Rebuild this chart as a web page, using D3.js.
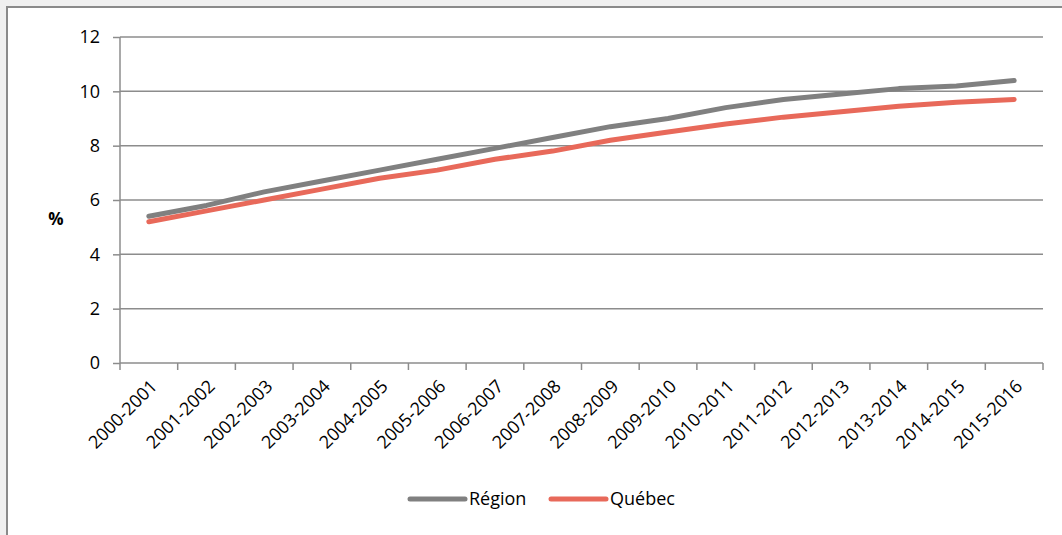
<!DOCTYPE html>
<html>
<head>
<meta charset="utf-8">
<script src="https://cdn.jsdelivr.net/npm/d3@7"></script>
<style>
  html, body { margin: 0; padding: 0; background: #f0f0f0; }
  svg { display: block; }
</style>
</head>
<body>
<svg id="chart" width="1062" height="535"></svg>
<script>
// Taux annuel (%) par année scolaire
const periods = ["2000-2001","2001-2002","2002-2003","2003-2004","2004-2005","2005-2006",
  "2006-2007","2007-2008","2008-2009","2009-2010","2010-2011","2011-2012",
  "2012-2013","2013-2014","2014-2015","2015-2016"];
const region = [5.4, 5.8, 6.3, 6.7, 7.1, 7.5, 7.9, 8.3, 8.7, 9.0, 9.4, 9.7, 9.9, 10.1, 10.2, 10.4];
const quebec = [5.2, 5.6, 6.0, 6.4, 6.8, 7.1, 7.5, 7.8, 8.2, 8.5, 8.8, 9.05, 9.25, 9.45, 9.6, 9.7];
const yTicks = [0, 2, 4, 6, 8, 10, 12];
const seriesNames = ["Région", "Québec"];
const seriesColors = ["#808080", "#e8695a"];

const svg = d3.select("#chart");
const font = "'Open Sans', 'Liberation Sans', sans-serif";
const fontSize = 18;

// white panel with a gray frame on top and left
svg.append("rect").attr("x", 7).attr("y", 7).attr("width", 1062).attr("height", 535)
  .attr("fill", "#ffffff");
svg.append("path").attr("d", "M7,535V7H1062")
  .attr("fill", "none").attr("stroke", "#8a8a8a").attr("stroke-width", 2);

const plot = { left: 120, right: 1043, top: 37, bottom: 363 };

const x = d3.scaleBand().domain(periods).range([plot.left, plot.right]);
const y = d3.scaleLinear().domain([0, 12]).range([plot.bottom, plot.top]);

const gridColor = "#8c8c8c";

// y axis ticks and labels
const yAxis = svg.append("g")
  .attr("transform", `translate(${plot.left},0)`)
  .call(d3.axisLeft(y).tickValues(yTicks).tickSize(7).tickPadding(13).tickFormat(d3.format("d")));
yAxis.select(".domain").remove();
yAxis.selectAll(".tick line").attr("stroke", gridColor).attr("stroke-width", 1.5);
yAxis.selectAll(".tick text").attr("font-family", font).attr("font-size", fontSize).attr("fill", "#000");

// horizontal gridlines
svg.append("g").selectAll("line").data(yTicks).join("line")
  .attr("x1", plot.left).attr("x2", plot.right)
  .attr("y1", d => y(d)).attr("y2", d => y(d))
  .attr("stroke", gridColor).attr("stroke-width", 1.5);

svg.append("line")
  .attr("x1", plot.left).attr("x2", plot.left)
  .attr("y1", plot.top).attr("y2", plot.bottom)
  .attr("stroke", gridColor).attr("stroke-width", 1.5);

// x axis with category boundary ticks
const bounds = periods.map(p => x(p)).concat([plot.right]);
svg.append("g").selectAll("line").data(bounds).join("line")
  .attr("x1", d => d).attr("x2", d => d)
  .attr("y1", plot.bottom).attr("y2", plot.bottom + 7)
  .attr("stroke", gridColor).attr("stroke-width", 1.5);

svg.append("g").selectAll("text").data(periods).join("text")
  .attr("transform", d => `translate(${x(d) + x.bandwidth() / 2 + 5},${plot.bottom + 20}) rotate(-45)`)
  .attr("text-anchor", "end")
  .attr("dy", "0.35em")
  .attr("font-family", font).attr("font-size", fontSize).attr("fill", "#000")
  .text(d => d);

// y axis title
svg.append("text")
  .attr("x", 56).attr("y", 219)
  .attr("text-anchor", "middle").attr("dy", "0.35em")
  .attr("font-family", font).attr("font-size", 17).attr("font-weight", "bold")
  .text("%");

// series lines
const line = d3.line()
  .x((d, i) => x(periods[i]) + x.bandwidth() / 2)
  .y(d => y(d));

[region, quebec].forEach((vals, k) => {
  svg.append("path").datum(vals)
    .attr("d", line)
    .attr("fill", "none")
    .attr("stroke", seriesColors[k])
    .attr("stroke-width", 5)
    .attr("stroke-linecap", "round")
    .attr("stroke-linejoin", "round");
});

// legend
const legendItems = [
  { name: seriesNames[0], color: seriesColors[0], x: 410 },
  { name: seriesNames[1], color: seriesColors[1], x: 551 }
];
const lg = svg.append("g");
legendItems.forEach(it => {
  lg.append("line")
    .attr("x1", it.x).attr("x2", it.x + 55)
    .attr("y1", 499).attr("y2", 499)
    .attr("stroke", it.color).attr("stroke-width", 5).attr("stroke-linecap", "round");
  lg.append("text")
    .attr("x", it.x + 59).attr("y", 499).attr("dy", "0.35em")
    .attr("font-family", font).attr("font-size", fontSize).attr("fill", "#000")
    .text(it.name);
});
</script>
</body>
</html>
